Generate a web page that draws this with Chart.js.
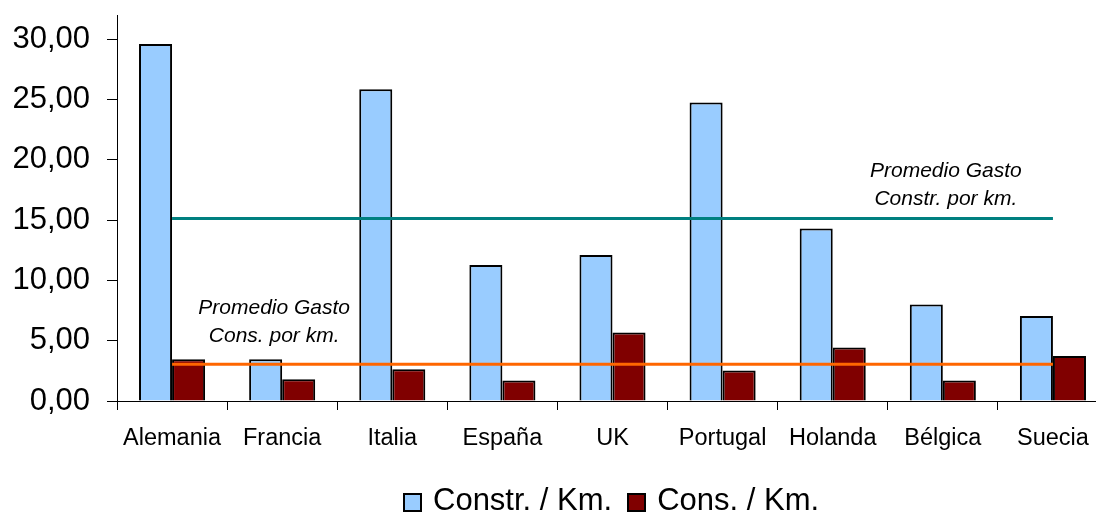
<!DOCTYPE html>
<html lang="es">
<head>
<meta charset="utf-8">
<title>Gasto por km</title>
<script src="https://cdn.jsdelivr.net/npm/chart.js@4.4.3/dist/chart.umd.min.js"></script>
<style>
  html, body { margin: 0; padding: 0; background: #fff; overflow: hidden; }
  body { width: 1096px; height: 513px; position: relative; }
  .wrap { position: absolute; left: 0; top: 0; width: 1110px; height: 513px; }
  .legend {
    position: absolute; left: 403px; top: 484px;
    display: flex; align-items: center;
    font-family: 'Liberation Sans', Arial, sans-serif; font-size: 31px; line-height: 31px; color: #000;
    white-space: nowrap;
  }
  .legend .box { box-sizing: border-box; width: 19px; height: 19px; border: 2px solid #000; margin-right: 11px; transform: translateY(3px); }
  .legend .item { display: flex; align-items: center; margin-right: 15px; }
</style>
</head>
<body>
<div class="wrap"><canvas id="chart"></canvas></div>
<div class="legend">
  <span class="item"><span class="box" style="background:#99CCFF"></span>Constr. / Km.</span>
  <span class="item"><span class="box" style="background:#800000"></span>Cons. / Km.</span>
</div>
<script>
const paises = ['Alemania', 'Francia', 'Italia', 'España', 'UK', 'Portugal', 'Holanda', 'Bélgica', 'Suecia'];
const constrKm = [29.6, 3.47, 25.85, 11.28, 12.11, 24.74, 14.3, 8.0, 7.04];
const consKm = [3.47, 1.8, 2.63, 1.69, 5.68, 2.52, 4.43, 1.69, 3.74];
const promedioConstr = 15.13;
const promedioCons = 3.05;
const yTicks = [0, 5, 10, 15, 20, 25, 30];

const FONT = "'Liberation Sans', Arial, sans-serif";

// italic notes above each average line
const notasPromedio = {
  id: 'notasPromedio',
  afterDatasetsDraw(chart) {
    const { ctx, scales: { x, y } } = chart;
    ctx.save();
    ctx.font = 'italic 21px ' + FONT;
    ctx.fillStyle = '#000';
    ctx.textAlign = 'center';
    ctx.textBaseline = 'middle';
    const xc = x.getPixelForValue(7) + 3;
    const yc = y.getPixelForValue(promedioConstr);
    ctx.fillText('Promedio Gasto', xc, yc - 47);
    ctx.fillText('Constr. por km.', xc, yc - 19);
    const xs = x.getPixelForValue(1) - 8;
    const ys = y.getPixelForValue(promedioCons);
    ctx.fillText('Promedio Gasto', xs, ys - 56);
    ctx.fillText('Cons. por km.', xs, ys - 28);
    ctx.restore();
  }
};

new Chart(document.getElementById('chart'), {
  type: 'bar',
  data: {
    labels: paises,
    datasets: [
      {
        type: 'line',
        label: 'Promedio Constr.',
        data: paises.map(() => promedioConstr),
        borderColor: '#008080',
        borderWidth: 3,
        pointRadius: 0,
        order: 0
      },
      {
        type: 'line',
        label: 'Promedio Cons.',
        data: paises.map(() => promedioCons),
        borderColor: '#FF6600',
        borderWidth: 3,
        pointRadius: 0,
        order: 0
      },
      {
        label: 'Constr. / Km.',
        data: constrKm,
        backgroundColor: '#99CCFF',
        borderColor: '#000',
        borderWidth: 2,
        categoryPercentage: 0.6,
        barPercentage: 1.0,
        order: 1
      },
      {
        label: 'Cons. / Km.',
        data: consKm,
        backgroundColor: '#800000',
        borderColor: '#000',
        borderWidth: 2,
        categoryPercentage: 0.6,
        barPercentage: 1.0,
        order: 1
      }
    ]
  },
  options: {
    responsive: true,
    maintainAspectRatio: false,
    animation: false,
    layout: { padding: { top: 15, right: 2, left: 0, bottom: 0 } },
    plugins: {
      legend: { display: false },
      tooltip: { enabled: false }
    },
    scales: {
      x: {
        offset: true,
        grid: { offset: true, drawOnChartArea: false, color: '#000', tickLength: 9, lineWidth: 1 },
        border: { color: '#000', width: 1 },
        ticks: { color: '#000', font: { family: FONT, size: 23.5 }, padding: 14, maxRotation: 0 },
        afterFit(scale) {
          scale.height = 112;
          scale.paddingLeft = 0;
          scale.paddingRight = 0;
        }
      },
      y: {
        min: 0,
        max: 32,
        afterBuildTicks(scale) { scale.ticks = yTicks.map(v => ({ value: v })); },
        grid: { drawOnChartArea: false, color: '#000', tickLength: 10 },
        border: { color: '#000', width: 1 },
        ticks: {
          color: '#000',
          font: { family: FONT, size: 31 },
          padding: 17,
          callback: v => v.toFixed(2).replace('.', ',')
        },
        afterFit(scale) {
          scale.width = 117;
          scale.paddingTop = 0;
          scale.paddingBottom = 0;
        }
      }
    }
  },
  plugins: [notasPromedio]
});
</script>
</body>
</html>
